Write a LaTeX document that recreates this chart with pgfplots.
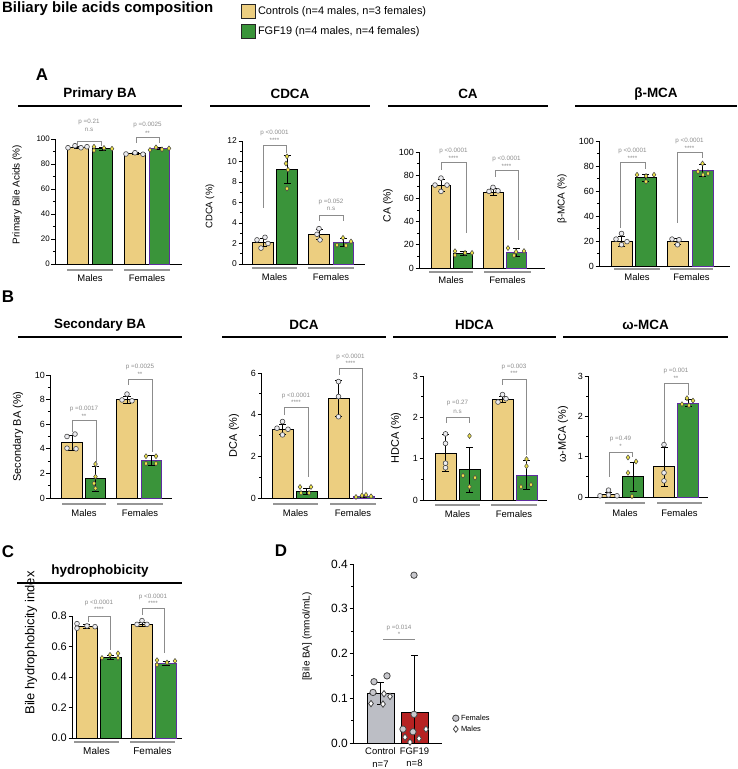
\documentclass[border=0pt]{standalone}
\usepackage{fontspec}
\setmainfont{Liberation Sans}
\usepackage{pgfplots}
\pgfplotsset{compat=1.18}

\definecolor{ctrl}{RGB}{236,206,128}
\definecolor{fgf}{RGB}{58,148,58}
\definecolor{purp}{RGB}{95,45,160}
\definecolor{dgrey}{RGB}{188,190,197}
\definecolor{dred}{RGB}{182,34,34}
\definecolor{ann}{RGB}{140,140,140}
\definecolor{grp}{RGB}{150,150,150}
\definecolor{ptc}{RGB}{236,236,240}
\definecolor{ptf}{RGB}{240,228,70}
\definecolor{ptout}{RGB}{70,70,70}
\definecolor{ptd}{RGB}{200,200,205}

\newcommand{\fTick}{\fontsize{8}{9}\selectfont}
\newcommand{\fLab}{\fontsize{9.5}{11}\selectfont}
\newcommand{\fTitle}{\fontsize{13.5}{15}\selectfont\bfseries}
\newcommand{\fP}{\fontsize{6.3}{7}\selectfont}
\newcommand{\fGrp}{\fontsize{9.5}{11}\selectfont}
\newcommand{\fLet}{\fontsize{17}{19}\selectfont\bfseries}

\pgfplotsset{
  panel/.style={
    scale only axis, anchor=south west, clip=false, enlargelimits=false,
    axis x line=bottom, axis y line=left,
    axis line style={-, line width=0.9bp, black},
    xtick=\empty, xmin=0, ymin=0,
    tick align=outside, major tick length=3.5bp, minor tick length=2bp,
    tick style={black, line width=0.8bp},
    yticklabel style={font=\fTick, inner sep=1.5bp},
    ylabel style={font=\fLab, anchor=center},
    /pgf/number format/assume math mode=true,
  },
  tf/.style={yticklabel style={font=\fontsize{#1}{#1}\selectfont}},
  lf/.style={ylabel style={font=\fontsize{#1}{#1}\selectfont}},
  ylab/.style 2 args={ylabel style={at={([xshift=-#1,yshift=#2]axis description cs:0,0.5)}}},
  bbase/.style={ybar, bar shift=0pt, draw=black, line width=0.9bp,
    error bars/y dir=both, error bars/y explicit,
    error bars/error bar style={black, line width=0.8bp},
    error bars/error mark options={rotate=90, mark size=3.5bp, black, line width=0.8bp}},
  bctrl/.style={bbase, fill=ctrl},
  bfgf/.style={bbase, fill=fgf},
  bfgff/.style={bbase, fill=fgf, draw=purp},
  pctrl/.style={only marks, mark=*, mark size=2.4bp, mark options={fill=ptc, draw=ptout, line width=0.6bp}},
  pfgf/.style={only marks, mark=diamond*, mark size=2.5bp, mark options={fill=ptf, draw=ptout, line width=0.5bp}},
}

\newcommand{\brk}[5]{\draw[ann, line width=0.6bp] (#1,#4) -- (#1,#3) -- (#2,#3) -- (#2,#5);}
\newcommand{\ptxt}[5]{\node[text=ann, font=\fP, inner sep=0] at (#1,#2) {#3}; \node[text=ann, font=\fP, inner sep=0] at (#1,#4) {#5};}
\newcommand{\grp}[5]{\draw[grp, line width=1.1bp] (#1,#3) -- (#2,#3); \node[font=\fGrp, inner sep=0] at ({(#1+#2)/2},#4) {#5};}
\newcommand{\ttl}[5]{\node[font=\fTitle, inner sep=0] at (#1,#2) {#3}; \draw[line width=1.1bp] (#4,#2+12) -- (#5,#2+12);}

\begin{document}
\begin{tikzpicture}

% ---------------- A: Primary BA
\begin{axis}[panel, at={(55bp,505bp)}, width=127bp, height=125bp, xmax=127, ymax=100,
  ytick={0,20,40,60,80,100}, minor y tick num=1, ylabel={Primary Bile Acids (\%)}, lf=10, ylab={38bp}{7bp},
  legend style={at={(axis description cs:1.465,2.08)}, anchor=north west, draw=none, fill=none,
    inner sep=0pt, row sep=5bp, font=\fontsize{11}{13}\selectfont},
  legend cell align=left]
\addlegendimage{legend image code/.code={\draw[fill=ctrl, draw=black!85, line width=0.8bp] (0bp,-7bp) rectangle (14bp,7bp);}}
\addlegendentry{Controls (n=4 males, n=3 females)}
\addlegendimage{legend image code/.code={\draw[fill=fgf, draw=black!85, line width=0.8bp] (0bp,-7bp) rectangle (14bp,7bp);}}
\addlegendentry{FGF19 (n=4 males, n=4 females)}
\addplot[bctrl, bar width=20.5] coordinates {(23,93.5) +- (0,0.8) (80,88.3) +- (0,0.7)};
\addplot[bfgf, bar width=20.5] coordinates {(47.5,92.2) +- (0,1.2)};
\addplot[bfgff, bar width=20.5] coordinates {(104.5,92.2) +- (0,0.8)};
\addplot[pctrl] coordinates {(13,93.0) (20,94.6) (26,93.0) (32,93.8) (71,88.0) (80,89.0) (88,87.8)};
\addplot[pfgf] coordinates {(39,93.8) (39,90.8) (49,92.8) (57,92.2) (95,91.2) (101,93.3) (107,91.7) (114,92.5)};
\end{axis}

% ---------------- A: CDCA
\begin{axis}[panel, at={(242bp,505bp)}, width=123bp, height=123bp, xmax=123, ymax=12,
  tf=8.5, ytick={0,2,4,6,8,10,12}, minor y tick num=1, ylabel={CDCA (\%)}, ylab={32bp}{-4bp}]
\addplot[bctrl, bar width=20.5] coordinates {(21,2.1) +- (0,0.4) (77,2.9) +- (0,0.5)};
\addplot[bfgf, bar width=20.5] coordinates {(45,9.2) +- (0,1.35)};
\addplot[bfgff, bar width=20.5] coordinates {(101.5,2.1) +- (0,0.4)};
\addplot[pctrl] coordinates {(15,2.35) (23,2.6) (26,2.0) (19,1.55) (77,3.45) (75,2.9) (78,2.35)};
\addplot[pfgf] coordinates {(45,10.5) (44,9.8) (46,9.2) (45,7.35) (95,1.85) (101,2.55) (104,1.8) (109,2.2)};
\end{axis}

% ---------------- A: CA
\begin{axis}[panel, at={(419bp,501bp)}, width=126bp, height=116bp, xmax=126, ymax=100,
  tf=9, lf=10.5, ytick={0,20,40,60,80,100}, minor y tick num=1, ylabel={CA (\%)}, ylab={31bp}{4.5bp}]
\addplot[bctrl, bar width=19.5] coordinates {(22,71) +- (0,5) (74.5,65.5) +- (0,3)};
\addplot[bfgf, bar width=19.5] coordinates {(44,12.5) +- (0,1.5)};
\addplot[bfgff, bar width=19.5] coordinates {(97.5,13.5) +- (0,3.5)};
\addplot[pctrl] coordinates {(22,77.5) (16,71.5) (28,71.5) (22,66) (74,69.5) (70,66) (79,66.5)};
\addplot[pfgf] coordinates {(36,14.5) (36,11) (46,13) (53,13) (89,17.2) (95,10.8) (97,14.0) (105,14.6)};
\end{axis}

% ---------------- A: beta-MCA
\begin{axis}[panel, at={(599bp,503bp)}, width=131bp, height=125bp, xmax=131, ymax=100,
  tf=9, lf=10, ytick={0,20,40,60,80,100}, minor y tick num=1, ylabel={β-MCA (\%)}, ylab={37bp}{4.5bp}]
\addplot[bctrl, bar width=21] coordinates {(22.5,20) +- (0,4) (78.5,19.5) +- (0,2.5)};
\addplot[bfgf, bar width=21] coordinates {(46.5,70.5) +- (0,3)};
\addplot[bfgff, bar width=21] coordinates {(103.5,76.5) +- (0,4.5)};
\addplot[pctrl] coordinates {(22.5,26) (17,21.5) (28,19.5) (22.5,17) (73,21.5) (80,21) (78.5,17)};
\addplot[pfgf] coordinates {(38,73) (47,72) (55,73) (47,67.5) (103.5,82) (99,75.5) (104,73) (109,74)};
\end{axis}

% ---------------- B: Secondary BA
\begin{axis}[panel, at={(50bp,271bp)}, width=122bp, height=123bp, xmax=122, ymax=10,
  tf=9, lf=11, ytick={0,2,4,6,8,10}, minor y tick num=1, ylabel={Secondary BA (\%)}, ylab={32bp}{0bp}]
\addplot[bctrl, bar width=20.5] coordinates {(22,4.5) +- (0,0.6) (77,8.0) +- (0,0.3)};
\addplot[bfgf, bar width=20.5] coordinates {(45.5,1.55) +- (0,1.0)};
\addplot[bfgff, bar width=20.5] coordinates {(101.5,3.05) +- (0,0.4)};
\addplot[pctrl] coordinates {(17,5.0) (25,5.2) (17,4.05) (26,4.0) (77,8.45) (72,7.97) (82,7.9)};
\addplot[pfgf] coordinates {(45.5,2.76) (45.5,1.73) (44,1.19) (45.5,0.79) (96,3.4) (106,3.4) (96,2.8) (106,2.8)};
\end{axis}

% ---------------- B: DCA
\begin{axis}[panel, at={(261bp,271bp)}, width=121bp, height=125bp, xmax=121, ymax=6,
  tf=9, lf=11, ytick={0,2,4,6}, minor y tick num=1, ylabel={DCA (\%)}, ylab={27bp}{0bp}]
\addplot[bctrl, bar width=21] coordinates {(21.5,3.3) +- (0,0.25) (77.5,4.78) +- (0,0.85)};
\addplot[bfgf, bar width=21] coordinates {(45.5,0.3) +- (0,0.15)};
\addplot[bfgff, bar width=21] coordinates {(102.5,0.08) +- (0,0.05)};
\addplot[pctrl] coordinates {(21.5,3.67) (16,3.35) (27,3.3) (21.5,3.03) (77.5,5.59) (77.5,4.87) (77.5,3.9)};
\addplot[pfgf] coordinates {(39,0.53) (50,0.53) (40,0.24) (48,0.24) (95,0.05) (101,0.12) (105,0.15) (110,0.08)};
\end{axis}

% ---------------- B: HDCA
\begin{axis}[panel, at={(423bp,269bp)}, width=124bp, height=124bp, xmax=124, ymax=3,
  tf=9, lf=11, ytick={0,1,2,3}, minor y tick num=1, ylabel={HDCA (\%)}, ylab={27bp}{0bp}]
\addplot[bctrl, bar width=21] coordinates {(22.5,1.13) +- (0,0.45) (79.5,2.43) +- (0,0.08)};
\addplot[bfgf, bar width=21] coordinates {(46.5,0.73) +- (0,0.55)};
\addplot[bfgff, bar width=21] coordinates {(103.5,0.6) +- (0,0.35)};
\addplot[pctrl] coordinates {(22.5,1.6) (22.5,1.37) (22.5,0.89) (22.5,0.78) (79.5,2.55) (75,2.37) (83,2.45)};
\addplot[pfgf] coordinates {(46.5,1.55) (40,0.59) (52,0.54) (46.5,0.32) (103.5,0.99) (103.5,0.82) (98,0.32) (108,0.37)};
\end{axis}

% ---------------- B: omega-MCA
\begin{axis}[panel, at={(588bp,272bp)}, width=120bp, height=121bp, xmax=120, ymax=3,
  tf=9, lf=11, ytick={0,1,2,3}, minor y tick num=1, ylabel={ω-MCA (\%)}, ylab={25bp}{2bp}]
\addplot[bctrl, bar width=20.5] coordinates {(20.5,0.06) +- (0,0.06) (76,0.75) +- (0,0.48)};
\addplot[bfgf, bar width=20.5] coordinates {(45,0.5) +- (0,0.35)};
\addplot[bfgff, bar width=20.5] coordinates {(100,2.33) +- (0,0.08)};
\addplot[pctrl] coordinates {(12,0.03) (20.5,0.17) (20.5,0.05) (29,0.03) (76,1.3) (76,0.6) (76,0.4)};
\addplot[pfgf] coordinates {(40,0.98) (48,0.88) (40,0.6) (44,0.02) (94,2.3) (99,2.45) (105,2.39) (101,2.27)};
\end{axis}

% ---------------- C: hydrophobicity
\begin{axis}[panel, at={(72bp,31bp)}, width=110bp, height=122bp, xmax=110, ymax=0.8,
  ytick={0,0.2,0.4,0.6,0.8}, minor y tick num=0,
  yticklabel style={font=\fontsize{11}{12}\selectfont, /pgf/number format/fixed, /pgf/number format/fixed zerofill, /pgf/number format/precision=1},
  ylabel={Bile hydrophobicity index}, lf=13, ylab={41bp}{34bp}]
\addplot[bctrl, bar width=21] coordinates {(14.5,0.73) +- (0,0.012) (70,0.745) +- (0,0.01)};
\addplot[bfgf, bar width=21] coordinates {(38.5,0.53) +- (0,0.012)};
\addplot[bfgff, bar width=21] coordinates {(94,0.49) +- (0,0.012)};
\addplot[pctrl] coordinates {(5,0.75) (5,0.72) (15,0.735) (23,0.73) (65,0.745) (70,0.77) (75,0.745)};
\addplot[pfgf] coordinates {(30,0.525) (38,0.545) (46,0.555) (46,0.525) (85,0.51) (85,0.48) (95,0.495) (103,0.505)};
\end{axis}

% ---------------- D: bile BA concentration
\begin{axis}[panel, at={(353bp,26bp)}, width=89bp, height=179bp, xmax=89, ymax=0.4,
  ytick={0,0.1,0.2,0.3,0.4}, minor y tick num=1,
  yticklabel style={font=\fontsize{12}{13}\selectfont, /pgf/number format/fixed, /pgf/number format/fixed zerofill, /pgf/number format/precision=1},
  ylabel={[Bile BA] (mmol/mL)}, lf=10, ylab={46bp}{17bp},
  xtick={27.5,61.5}, xticklabels={{Control\\n=7},{FGF19\\n=8}},
  xticklabel style={align=center, font=\fontsize{9.5}{12.5}\selectfont, inner sep=1bp}, xtick style={draw=none},
  legend style={at={(axis description cs:1.117,0.17)}, anchor=north west, draw=none, fill=none,
    inner sep=0pt, row sep=0bp, font=\fontsize{7.5}{9}\selectfont},
  legend cell align=left]
\addplot[bbase, fill=dgrey, bar width=27, forget plot] coordinates {(27.5,0.111) +- (0,0.025)};
\addplot[bbase, fill=dred, bar width=27, forget plot] coordinates {(61.5,0.069) += (0,0.126) -= (0,0.069)};
\addplot[only marks, mark=*, mark size=3.2bp, mark options={fill=ptd, draw=ptout, line width=0.8bp}]
  coordinates {(21,0.137) (34,0.150) (20,0.113) (61,0.375) (61,0.064) (50,0.031) (60,0.025)};
\addlegendentry{Females}
\addplot[only marks, mark=diamond*, mark size=3.2bp, mark options={fill=white, draw=ptout, line width=0.8bp}]
  coordinates {(31,0.110) (18,0.088) (30,0.087) (37,0.104) (73,0.031) (66,0.010) (57,0.002) (52,0.013)};
\addlegendentry{Males}
\end{axis}

% ---------------- annotations (page coordinates, y downward)
\begin{scope}[x=1bp, y=-1bp, yshift=769bp]
\node[font=\fontsize{15}{17}\selectfont\bfseries, anchor=west, inner sep=0] at (2,9) {Biliary bile acids composition};
\node[font=\fLet, inner sep=0] at (42,75) {A};
\node[font=\fLet, inner sep=0] at (8,297) {B};
\node[font=\fLet, inner sep=0] at (8,552) {C};
\node[font=\fLet, inner sep=0] at (281,551) {D};

\ttl{100}{94}{Primary BA}{18}{182}
\ttl{290}{94}{CDCA}{210}{370}
\ttl{468}{94}{CA}{388}{548}
\ttl{656}{94}{β-MCA}{575}{737}
\ttl{100}{325}{Secondary BA}{18}{182}
\ttl{304}{325}{DCA}{222}{386}
\ttl{474.5}{325}{HDCA}{393}{556}
\ttl{645.5}{325}{ω-MCA}{563}{728}
\ttl{100}{571}{hydrophobicity}{17}{182}

% Primary BA
\brk{77}{101}{141}{146}{146}
\ptxt{89}{122}{p =0.21}{130}{n.s}
\brk{136}{159}{137}{143}{143}
\ptxt{147.5}{125}{p =0.0025}{133}{**}
\grp{67}{113}{270}{278}{Males}
\grp{124}{170}{270}{278}{Females}
% CDCA
\brk{263}{286}{145}{208}{153}
\ptxt{274.5}{133}{p <0.0001}{140}{****}
\brk{319}{343}{215}{221}{221}
\ptxt{331}{202}{p =0.052}{209}{n.s}
\grp{252}{297}{268}{277}{Males}
\grp{308}{354}{268}{277}{Females}
% CA
\brk{441}{466}{162}{170}{233}
\ptxt{453.5}{151}{p <0.0001}{158}{****}
\brk{495}{518}{170}{177}{240}
\ptxt{506.5}{159}{p <0.0001}{166}{****}
\grp{429}{473}{272}{280}{Males}
\grp{484}{531}{272}{280}{Females}
% beta-MCA
\brk{620}{645}{162}{228}{169}
\ptxt{632.5}{151}{p <0.0001}{158}{****}
\brk{677}{702}{152}{223}{158}
\ptxt{689.5}{141}{p <0.0001}{148}{****}
\grp{614}{660}{269}{277}{Males}
\grp{670}{713}{269}{277}{Females}
% Secondary BA
\brk{72}{96}{420}{432}{467}
\ptxt{84}{409}{p =0.0017}{416}{**}
\brk{128}{152}{379}{385}{452}
\ptxt{140}{367}{p =0.0025}{374}{**}
\grp{62}{106}{504}{513}{Males}
\grp{117}{163}{504}{513}{Females}
% DCA
\brk{284}{308}{407}{415}{477}
\ptxt{296}{396}{p <0.0001}{402}{****}
\brk{339}{362}{368}{375}{493}
\ptxt{350.5}{357}{p <0.0001}{363}{****}
\grp{273}{318}{504}{513}{Males}
\grp{330}{376}{504}{513}{Females}
% HDCA
\brk{446}{469}{417}{423}{423}
\ptxt{457.5}{403}{p =0.27}{412}{n.s}
\brk{502}{526}{379}{385}{455}
\ptxt{514}{367}{p =0.003}{373}{***}
\grp{435}{480}{505}{514}{Males}
\grp{491}{537}{505}{514}{Females}
% omega-MCA
\brk{609}{632}{452}{477}{457}
\ptxt{620.5}{439}{p =0.49}{446}{*}
\brk{664}{688}{383}{442}{395}
\ptxt{676}{371}{p =0.001}{378}{**}
\grp{605}{645}{503}{513}{Males}
\grp{657}{702}{503}{513}{Females}
% hydrophobicity
\brk{88}{110}{616}{622}{650}
\ptxt{99}{603}{p <0.0001}{609}{****}
\brk{142}{164}{608}{615}{653}
\ptxt{153}{597}{p <0.0001}{603}{****}
\draw[grp, line width=1.1bp] (74,742) -- (119,742);
\draw[grp, line width=1.1bp] (130,742) -- (175,742);
\node[font=\fontsize{10}{11}\selectfont, inner sep=0] at (96.5,751) {Males};
\node[font=\fontsize{10}{11}\selectfont, inner sep=0] at (152.5,751) {Females};
% D
\draw[ann, line width=0.9bp] (383,639) -- (415,639);
\ptxt{399}{628}{p =0.014}{634}{*}
\end{scope}

\pgfresetboundingbox
\path (0,0) rectangle (738bp,769bp);
\end{tikzpicture}
\end{document}
